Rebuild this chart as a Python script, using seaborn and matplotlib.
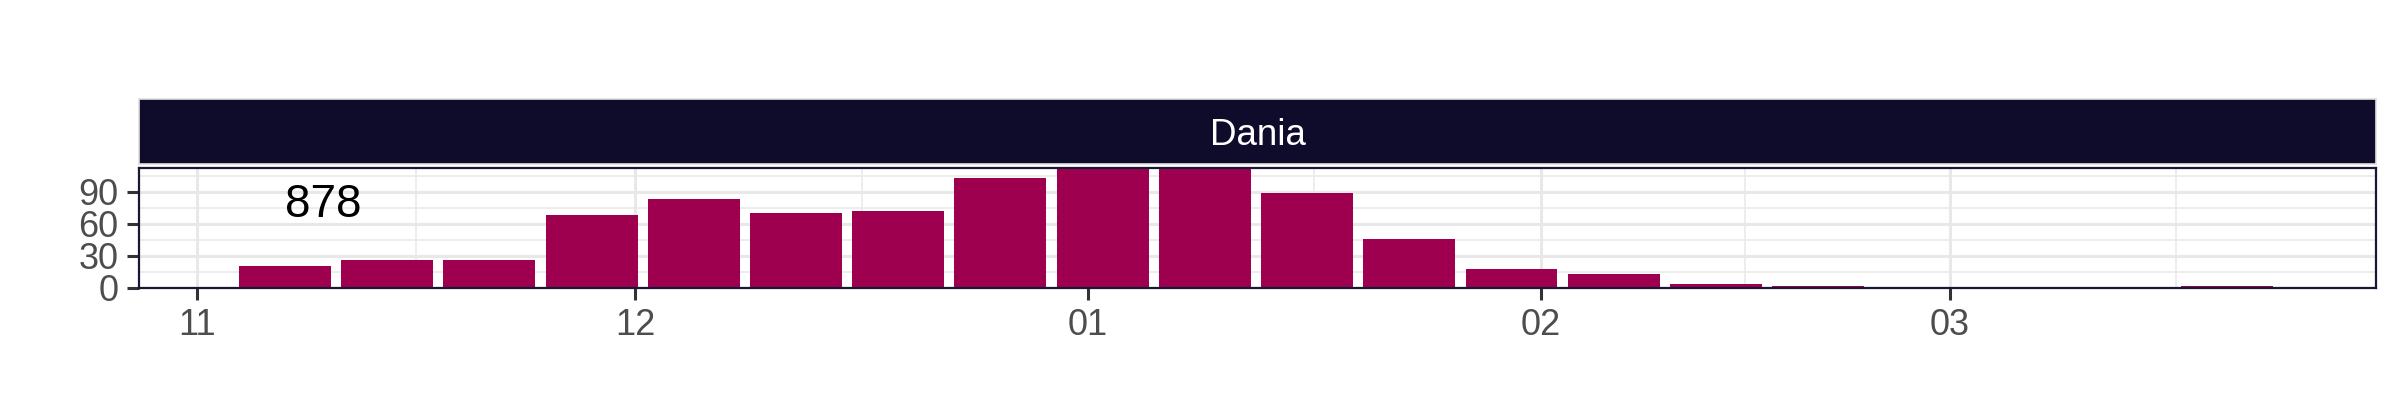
#!/usr/bin/env python3
""" Weekly counts for Dania, one facet strip on top """

import pandas as pd
import matplotlib
matplotlib.use('Agg')
import matplotlib.pyplot as plt
import matplotlib.dates as mdates
import matplotlib.ticker as mticker
import seaborn as sns

# Data
week_start = ['2021-11-07', '2021-11-14', '2021-11-21', '2021-11-28',
              '2021-12-05', '2021-12-12', '2021-12-19', '2021-12-26',
              '2022-01-02', '2022-01-09', '2022-01-16', '2022-01-23', '2022-01-30',
              '2022-02-06', '2022-02-13', '2022-02-20', '2022-02-27',
              '2022-03-06', '2022-03-13', '2022-03-20']
counts = [20, 26, 26, 68, 83, 70, 72, 103, 118, 122, 89, 46, 17, 13, 3, 1, 0, 0, 0, 1]
country = 'Dania'
total_label = '878'
y_ticks = [0, 30, 60, 90]

BAR_COLOR = '#9E004F'
STRIP_COLOR = '#0E0B2B'
BORDER_COLOR = '#1A1636'
GRID_COLOR = '#E8E8E8'
LABEL_COLOR = '#4D4D4D'


def main():
  sns.set_theme(style='white')
  plt.rcParams['font.family'] = ['Liberation Sans', 'DejaVu Sans']

  df = pd.DataFrame({'week': pd.to_datetime(week_start), 'count': counts})
  df['x'] = mdates.date2num(df['week'])

  W, H = 2400, 420
  fig = plt.figure(figsize=(24, 4.2), dpi=100)
  # Panel and strip placement (pixels from top-left)
  left, right = 139, 2376
  p_top, p_bot = 167.5, 287.5
  s_top, s_bot = 99, 164
  ax = fig.add_axes([left / W, 1 - p_bot / H, (right - left) / W, (p_bot - p_top) / H])
  strip = fig.add_axes([left / W, 1 - s_bot / H, (right - left) / W, (s_bot - s_top) / H])

  sns.barplot(data=df, x='x', y='count', native_scale=True, width=0.9,
              color=BAR_COLOR, saturation=1, linewidth=0, ax=ax, zorder=2)

  # Axis limits
  ax.set_xlim(mdates.date2num(pd.Timestamp('2021-10-28')),
              mdates.date2num(pd.Timestamp('2022-03-30 05:00')))
  ax.set_ylim(0, 113)

  # x axis: month starts, minor grid halfway between
  month_starts = pd.date_range('2021-10-01', '2022-04-01', freq='MS')
  ms_num = mdates.date2num(month_starts)
  mids = [(a + b) / 2 for a, b in zip(ms_num[:-1], ms_num[1:])]
  ax.xaxis.set_major_locator(mticker.FixedLocator(ms_num))
  ax.xaxis.set_major_formatter(mdates.DateFormatter('%m'))
  ax.xaxis.set_minor_locator(mticker.FixedLocator(mids))
  ax.yaxis.set_major_locator(mticker.FixedLocator(y_ticks))
  ax.yaxis.set_minor_locator(mticker.MultipleLocator(15))

  ax.set_axisbelow(True)
  ax.grid(which='major', color=GRID_COLOR, linewidth=2.2)
  ax.grid(which='minor', color=GRID_COLOR, linewidth=1.1)
  ax.tick_params(which='major', bottom=True, left=True, length=8.6, width=2.2,
                 color='#333333', labelsize=26, labelcolor=LABEL_COLOR, pad=6)
  ax.tick_params(axis='y', which='major', pad=6)
  ax.tick_params(which='minor', length=0)
  ax.set_xlabel('')
  ax.set_ylabel('')
  for sp in ax.spines.values():
    sp.set_visible(True)
    sp.set_color(BORDER_COLOR)
    sp.set_linewidth(1.6)

  # Total label
  ax.text(mdates.date2num(pd.Timestamp('2021-11-09 15:00')), 66.5, total_label,
          ha='center', va='baseline', fontsize=33, color='black')

  # Facet strip
  strip.set_facecolor(STRIP_COLOR)
  strip.set_xticks([])
  strip.set_yticks([])
  for sp in strip.spines.values():
    sp.set_color('#E0E0E0')
    sp.set_linewidth(1.2)
  strip.text(0.5, 0.292, country, transform=strip.transAxes, ha='center',
             va='baseline', fontsize=26.5, color='white')

  fig.savefig('out.png', dpi=100, facecolor='white')


if __name__ == '__main__':
  main()
